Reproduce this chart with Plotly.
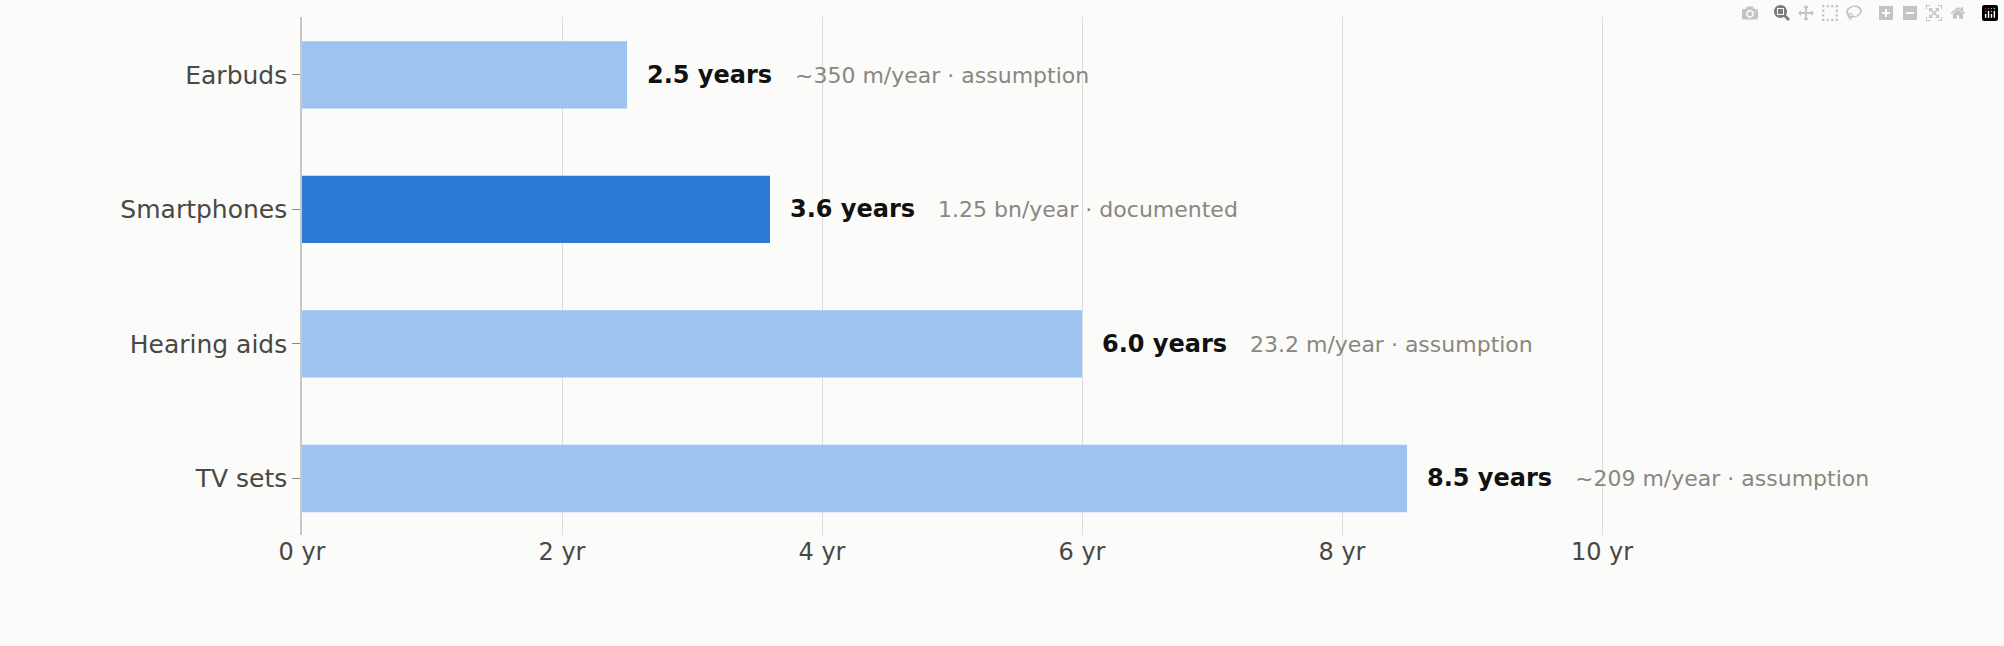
import plotly.graph_objects as go

categories = ["Earbuds", "Smartphones", "Hearing aids", "TV sets"]
years = [2.5, 3.6, 6.0, 8.5]
notes = ["~350 m/year · assumption", "1.25 bn/year · documented",
         "23.2 m/year · assumption", "~209 m/year · assumption"]
highlight = "Smartphones"
tick_vals = [0, 2, 4, 6, 8, 10]
tick_text = ["0 yr", "2 yr", "4 yr", "6 yr", "8 yr", "10 yr"]

colors = ["#2a7ad6" if c == highlight else "#9dc3f0" for c in categories]

fig = go.Figure(go.Bar(
    x=years, y=categories, orientation="h", width=0.5,
    marker=dict(color=colors, line=dict(width=0)), hoverinfo="skip"))

for c, v, n in zip(categories, years, notes):
    fig.add_annotation(
        x=v, y=c, xref="x", yref="y", xanchor="left", showarrow=False, xshift=18,
        text=f"<b>{v:.1f} years</b>&nbsp;&nbsp;&nbsp;<span style='color:#8a8680;font-size:22px'>{n}</span>",
        font=dict(family="DejaVu Sans", size=24, color="#111111"))

fig.update_layout(
    width=2004, height=646,
    paper_bgcolor="#fbfbf9", plot_bgcolor="#fbfbf9",
    margin=dict(l=302, r=77, t=17, b=111),
    showlegend=False,
    font=dict(family="DejaVu Sans", size=25, color="#4a4744"),
    xaxis=dict(range=[0, 12.5], tickvals=tick_vals, ticktext=tick_text,
               showgrid=True, gridcolor="#dcdcdc", gridwidth=1, zeroline=False,
               showline=False, ticks="", tickfont=dict(size=24)),
    yaxis=dict(categoryorder="array", categoryarray=categories,
               range=[3.42, -0.43],
               showline=True, linecolor="#c8c8c8", linewidth=1.5,
               ticks="outside", ticklen=8, tickcolor="#888888",
               showgrid=False),
)
fig.write_html("out.html", post_script="document.body.style.margin='0';document.body.style.background='#fbfbf9';")
